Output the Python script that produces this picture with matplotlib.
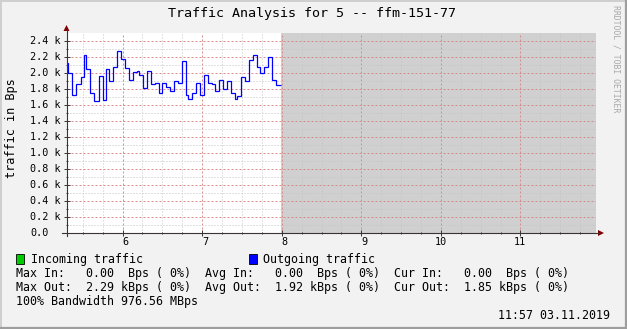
import matplotlib
matplotlib.use("Agg")
import matplotlib.pyplot as plt
import matplotlib.transforms as mtransforms
from matplotlib.patches import Rectangle, Polygon
from matplotlib.lines import Line2D
from matplotlib.ticker import MultipleLocator, FixedLocator

# ---------------- data ----------------
title = "Traffic Analysis for 5 -- ffm-151-77"
ylabel = "traffic in Bps"
watermark = "RRDTOOL / TOBI OETIKER"
hour_ticks = [6, 7, 8, 9, 10, 11]
hour_labels = ["6", "7", "8", "9", "10", "11"]
y_ticks = [0.0, 0.2, 0.4, 0.6, 0.8, 1.0, 1.2, 1.4, 1.6, 1.8, 2.0, 2.2, 2.4]
y_minor_ticks = [0.1, 0.3, 0.5, 0.7, 0.9, 1.1, 1.3, 1.5, 1.7, 1.9, 2.1, 2.3]
y_tick_labels = ["0.0", "0.2 k", "0.4 k", "0.6 k", "0.8 k", "1.0 k", "1.2 k",
                 "1.4 k", "1.6 k", "1.8 k", "2.0 k", "2.2 k", "2.4 k"]
x_range = [5.295, 11.95]
y_range = [0.0, 2.5]

# step edges (hours) and outgoing traffic (kBps)
time_edges = [5.299, 5.319, 5.370, 5.420, 5.474, 5.520, 5.546, 5.596, 5.646, 5.701,
              5.751, 5.797, 5.835, 5.885, 5.935, 5.985, 6.036, 6.086, 6.136, 6.186,
              6.211, 6.262, 6.312, 6.362, 6.412, 6.463, 6.500, 6.551, 6.601, 6.651,
              6.701, 6.752, 6.802, 6.827, 6.877, 6.928, 6.978, 7.028, 7.078, 7.129,
              7.166, 7.216, 7.267, 7.317, 7.367, 7.417, 7.443, 7.493, 7.543, 7.593,
              7.644, 7.694, 7.727, 7.778, 7.832, 7.882, 7.933, 7.991]
out_values = [2.12, 2.00, 1.72, 1.86, 1.95, 2.23, 2.05, 1.75, 1.65, 1.96,
              1.66, 2.05, 1.90, 2.07, 2.28, 2.17, 2.06, 1.91, 2.01, 2.02,
              1.97, 1.81, 2.03, 1.86, 1.88, 1.75, 1.87, 1.82, 1.78, 1.90,
              1.88, 2.15, 1.73, 1.67, 1.75, 1.87, 1.73, 1.98, 1.87, 1.86,
              1.78, 1.91, 1.80, 1.90, 1.75, 1.68, 1.71, 1.95, 1.90, 2.16,
              2.23, 2.08, 2.00, 2.08, 2.20, 1.91, 1.85]
now_time = time_edges[-1]

legend_names = ["Incoming traffic", "Outgoing traffic"]
legend_colors = ["#00CC00", "#0000FF"]
stat_lines = [
    "Max In:   0.00  Bps ( 0%)  Avg In:   0.00  Bps ( 0%)  Cur In:   0.00  Bps ( 0%)",
    "Max Out:  2.29 kBps ( 0%)  Avg Out:  1.92 kBps ( 0%)  Cur Out:  1.85 kBps ( 0%)",
    "100% Bandwidth 976.56 MBps",
]
timestamp = "11:57 03.11.2019"

# ---------------- figure ----------------
W, H = 627, 329
MONO = "DejaVu Sans Mono"
plt.rcParams["font.family"] = [MONO, "DejaVu Sans"]

fig = plt.figure(figsize=(W / 100, H / 100), dpi=100, facecolor="#F2F2F2")


def fx(px):
    return px / W


def fy(py):
    return 1 - py / H


AX_L, AX_R, AX_T, AX_B = 66.5, 596, 33, 233
ax = fig.add_axes([fx(AX_L), fy(AX_B), fx(AX_R - AX_L), (AX_B - AX_T) / H])
ax.set_facecolor("white")
ax.set_xlim(*x_range)
ax.set_ylim(*y_range)
for s in ax.spines.values():
    s.set_visible(False)

ax.xaxis.set_major_locator(MultipleLocator(1))
ax.xaxis.set_minor_locator(MultipleLocator(0.25))
ax.yaxis.set_major_locator(FixedLocator(y_ticks))
ax.yaxis.set_minor_locator(FixedLocator(y_minor_ticks))
ax.tick_params(which="both", labelleft=False, labelbottom=False, length=0)
ax.set_axisbelow(True)
ax.grid(which="minor", color="#C4C4C4", linewidth=0.72, linestyle=(0, (1, 2)))
ax.grid(which="major", color="#D98C8C", linewidth=0.72, linestyle=(0, (2, 2)))

# future (unknown) region
ax.axvspan(now_time, x_range[1], color="#D0D0D0", zorder=0.3, lw=0)

# outgoing traffic step line
ax.stairs(out_values, time_edges, baseline=None, color="#0000FF", linewidth=0.9, zorder=3)

# axis lines and arrows
AXC = "#3C3434"
ARC = "#7F0000"
fig.add_artist(Line2D([fx(AX_L), fx(AX_L)], [fy(236), fy(30)], color=AXC, lw=0.8))
fig.add_artist(Line2D([fx(62), fx(599)], [fy(AX_B), fy(AX_B)], color=AXC, lw=0.8))
fig.add_artist(Polygon([(fx(63.5), fy(31)), (fx(69.5), fy(31)), (fx(66.5), fy(25))],
                       closed=True, color=ARC, lw=0))
fig.add_artist(Polygon([(fx(598), fy(230)), (fx(598), fy(236)), (fx(604), fy(233))],
                       closed=True, color=ARC, lw=0))

# ticks
ax.tick_params(which="major", length=4, width=0.7, color=AXC, direction="inout")
ax.tick_params(which="minor", length=2, width=0.7, color=AXC, direction="inout")

# y tick labels (left aligned like rrdtool)
ty = mtransforms.blended_transform_factory(fig.transFigure, ax.transData)
for v, lab in zip(y_ticks, y_tick_labels):
    ax.text(fx(30), v, lab, transform=ty, ha="left", va="center", fontsize=7.3,
            family=MONO, color="black")

# x tick labels (two-character field, right aligned like rrdtool's %k)
tx = mtransforms.blended_transform_factory(ax.transData, fig.transFigure)
for h, lab in zip(hour_ticks, hour_labels):
    shift = (2 - len(lab)) * 3.0 / 100 * 72
    t = tx + mtransforms.ScaledTranslation(shift / 72, 0, fig.dpi_scale_trans)
    ax.text(h, fy(242), lab, transform=t, ha="center", va="center", fontsize=7.3,
            family=MONO, color="black")

# title and y label
fig.text(fx(312.5), fy(13.5), title, ha="center", va="center", fontsize=9.6, family=MONO)
fig.text(fx(12), fy(128), ylabel, rotation=90, ha="center", va="center",
         fontsize=8.6, family=MONO)
fig.text(fx(616), fy(59), watermark, rotation=270, ha="center", va="center",
         fontsize=5.9, family=MONO, color="#A8A8A8")

# legend
box_x = [16, 249]
text_x = [31, 263]
for name, col, bx, tx_ in zip(legend_names, legend_colors, box_x, text_x):
    fig.add_artist(Rectangle((fx(bx), fy(264)), fx(7.5), 10 / H, facecolor=col,
                             edgecolor="black", lw=0.6, transform=fig.transFigure))
    fig.text(fx(tx_), fy(259.5), name, ha="left", va="center", fontsize=8.4, family=MONO)

for i, line in enumerate(stat_lines):
    fig.text(fx(16), fy(273.5 + 14 * i), line, ha="left", va="center",
             fontsize=8.4, family=MONO)
fig.text(fx(610), fy(315.5), timestamp, ha="right", va="center", fontsize=8.4, family=MONO)

# 3D frame
fig.add_artist(Line2D([0, 1], [fy(0.5), fy(0.5)], color="#CFCFCF", lw=1.4))
fig.add_artist(Line2D([fx(0.5), fx(0.5)], [0, 1], color="#CFCFCF", lw=1.4))
fig.add_artist(Line2D([0, 1], [fy(328), fy(328)], color="#9E9E9E", lw=1.6))
fig.add_artist(Line2D([fx(626), fx(626)], [0, 1], color="#9E9E9E", lw=1.6))

fig.savefig("out.png", dpi=100, facecolor=fig.get_facecolor())
